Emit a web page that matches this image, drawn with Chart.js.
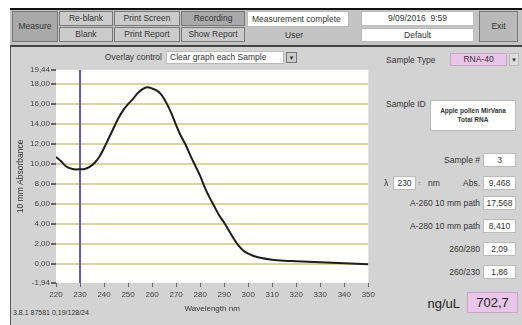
<!DOCTYPE html>
<html>
<head>
<meta charset="utf-8">
<script src="https://cdn.jsdelivr.net/npm/chart.js@4.4.1/dist/chart.umd.min.js"></script>
<style>
  body { margin: 0; background: #fff; font-family: "Liberation Sans", Arial, sans-serif; color: #333; }
  #win { position: absolute; left: 10px; top: 8px; width: 512px; height: 317px; background: #d3d3d3; border-left: 1px solid #555; }
  #bar { position: absolute; left: 10px; top: 8px; width: 512px; height: 35px; background: #c4c4c4; border-top: 2px solid #111; border-bottom: 2px solid #444; }
  .el { position: absolute; font-size: 8.5px; line-height: 1; display: flex; align-items: center; justify-content: center; box-sizing: border-box; white-space: nowrap; }
  .btn { background: #cbcbcb; border: 1px solid #777; }
  .dark { background: #a9a9a9; }
  .box { background: #fff; border: 1px solid #bbb; }
  .pink { background: #e9c6e9; border: 1px solid #c9a6c9; }
  .lbl { justify-content: flex-end; }
  #chartWrap { position: absolute; left: 12px; top: 64px; }
</style>
</head>
<body>
<div id="win"></div>
<div id="bar"></div>

<div class="el btn dark" style="left:12px;top:11px;width:46px;height:31px;">Measure</div>
<div class="el btn" style="left:59px;top:11px;width:54px;height:15px;">Re-blank</div>
<div class="el btn" style="left:59px;top:27px;width:54px;height:15px;">Blank</div>
<div class="el btn" style="left:114px;top:11px;width:66px;height:15px;">Print Screen</div>
<div class="el btn" style="left:114px;top:27px;width:66px;height:15px;">Print Report</div>
<div class="el btn dark" style="left:181px;top:11px;width:64px;height:15px;">Recording</div>
<div class="el btn" style="left:181px;top:27px;width:64px;height:15px;">Show Report</div>
<div class="el box" style="left:247px;top:11px;width:102px;height:16px;justify-content:flex-start;padding-left:4px;">Measurement complete</div>
<div class="el" style="left:284px;top:28px;width:20px;height:14px;">User</div>
<div class="el box" style="left:361px;top:11px;width:113px;height:15px;">9/09/2016&nbsp;&nbsp;9:59</div>
<div class="el box" style="left:361px;top:28px;width:113px;height:14px;">Default</div>
<div class="el btn" style="left:479px;top:11px;width:39px;height:31px;background:#b9b9b9;">Exit</div>

<div class="el lbl" style="left:80px;top:51px;width:82px;height:13px;">Overlay control</div>
<div class="el box" style="left:166px;top:51px;width:118px;height:13px;justify-content:flex-start;padding-left:3px;">Clear graph each Sample</div>
<div class="el btn" style="left:286px;top:52px;width:11px;height:11px;font-size:6px;">&#9660;</div>

<div class="el" style="left:386px;top:53px;width:60px;height:14px;justify-content:flex-start;">Sample Type</div>
<div class="el pink" style="left:450px;top:53px;width:57px;height:13px;">RNA-40</div>
<div class="el btn" style="left:509px;top:53px;width:10px;height:13px;font-size:6px;background:#ddd;border-color:#bbb;">&#9660;</div>

<div class="el" style="left:386px;top:98px;width:44px;height:12px;justify-content:flex-start;">Sample ID</div>
<div class="el box" style="left:430px;top:100px;width:86px;height:31px;font-size:6.5px;font-weight:bold;line-height:1.25;text-align:center;"><div>Apple pollen MirVana<br>Total RNA</div></div>

<div class="el lbl" style="left:400px;top:153px;width:80px;height:14px;">Sample #</div>
<div class="el box" style="left:483px;top:153px;width:33px;height:14px;">3</div>

<div class="el" style="left:382px;top:176px;width:8px;height:14px;">&lambda;</div>
<div class="el box" style="left:393px;top:176px;width:23px;height:14px;">230</div>
<div class="el" style="left:417px;top:176px;width:5px;height:14px;font-size:5px;color:#777;">&#8597;</div>
<div class="el" style="left:427px;top:176px;width:14px;height:14px;">nm</div>
<div class="el lbl" style="left:450px;top:176px;width:30px;height:14px;">Abs.</div>
<div class="el box" style="left:483px;top:176px;width:33px;height:14px;">9,468</div>

<div class="el lbl" style="left:380px;top:196px;width:100px;height:14px;">A-260 10 mm path</div>
<div class="el box" style="left:483px;top:196px;width:33px;height:14px;">17,568</div>
<div class="el lbl" style="left:380px;top:219px;width:100px;height:14px;">A-280 10 mm path</div>
<div class="el box" style="left:483px;top:219px;width:33px;height:14px;">8,410</div>
<div class="el lbl" style="left:400px;top:242px;width:80px;height:14px;">260/280</div>
<div class="el box" style="left:483px;top:242px;width:33px;height:14px;">2,09</div>
<div class="el lbl" style="left:400px;top:265px;width:80px;height:14px;">260/230</div>
<div class="el box" style="left:483px;top:265px;width:33px;height:14px;">1,86</div>

<div class="el lbl" style="left:410px;top:294px;width:50px;height:18px;font-size:13px;color:#222;">ng/uL</div>
<div class="el pink" style="left:467px;top:292px;width:51px;height:21px;font-size:13px;color:#222;">702,7</div>

<div class="el" style="left:13px;top:307px;width:120px;height:10px;justify-content:flex-start;font-size:7px;">3.8.1 87581 0,19/128/24</div>

<div id="chartWrap"><canvas id="spectrum" width="366" height="254"></canvas></div>

<script>
// Spectrum (wavelength nm / 10 mm absorbance)
const wavelengths = [220, 222, 224, 226, 228, 230, 232, 234, 236, 238, 240, 242, 244, 246, 248, 250,
  252, 254, 256, 258, 260, 262, 264, 266, 268, 270, 272, 274, 276, 278, 280, 282, 284, 286, 288,
  290, 292, 294, 296, 298, 300, 302, 305, 310, 315, 320, 325, 330, 335, 340, 345, 350];
const absorbance = [10.7, 10.3, 9.8, 9.55, 9.45, 9.47, 9.5, 9.7, 10.1, 10.7, 11.6, 12.6, 13.6, 14.6, 15.4, 16.0,
  16.5, 17.1, 17.5, 17.7, 17.57, 17.35, 16.9, 16.1, 15.1, 13.9, 12.8, 11.9, 10.8, 9.8, 8.8, 7.6, 6.6, 5.7, 4.8,
  4.1, 3.3, 2.5, 1.8, 1.3, 1.0, 0.8, 0.6, 0.4, 0.3, 0.25, 0.2, 0.15, 0.1, 0.05, 0.0, -0.05];

const markerWavelength = 230;
const yMin = -1.94;
const yMax = 19.44;
const yTickValues = [-1.94, 0, 2, 4, 6, 8, 10, 12, 14, 16, 18, 19.44];
const xTickValues = [220, 230, 240, 250, 260, 270, 280, 290, 300, 310, 320, 330, 340, 350];

const tickFont = { family: 'Liberation Sans, Arial, sans-serif', size: 8 };

const plotBg = {
  id: 'plotBg',
  beforeDraw(chart) {
    const a = chart.chartArea;
    chart.ctx.save();
    chart.ctx.fillStyle = '#fefefc';
    chart.ctx.fillRect(a.left, a.top, a.right - a.left, a.bottom - a.top);
    chart.ctx.restore();
  }
};

new Chart(document.getElementById('spectrum'), {
  type: 'line',
  data: {
    datasets: [{
      data: wavelengths.map((w, i) => ({ x: w, y: absorbance[i] })),
      borderColor: '#1e1e1e',
      borderWidth: 2,
      pointRadius: 0,
      tension: 0.3
    }, {
      data: [{ x: markerWavelength, y: yMin }, { x: markerWavelength, y: yMax }],
      borderColor: '#6a58a8',
      borderWidth: 2,
      pointRadius: 0
    }]
  },
  options: {
    responsive: false,
    animation: false,
    devicePixelRatio: 1,
    layout: { padding: { top: 5, right: 5, left: 0, bottom: 0 } },
    plugins: { legend: { display: false }, tooltip: { enabled: false } },
    scales: {
      x: {
        type: 'linear',
        min: 220,
        max: 350,
        afterBuildTicks: s => { s.ticks = xTickValues.map(v => ({ value: v })); },
        afterFit: s => { s.height = 35; },
        ticks: { font: tickFont, color: '#444', padding: 3, maxRotation: 0, autoSkip: false },
        grid: { drawOnChartArea: false, tickLength: 4, tickColor: '#666' },
        border: { display: false },
        title: { display: true, text: 'Wavelength nm', font: { family: tickFont.family, size: 8 }, color: '#333', padding: { top: 0, bottom: 4 } }
      },
      y: {
        min: yMin,
        max: yMax,
        afterBuildTicks: s => { s.ticks = yTickValues.map(v => ({ value: v })); },
        afterFit: s => { s.width = 44; },
        ticks: {
          font: tickFont, color: '#444', padding: 1, autoSkip: false,
          callback: v => v.toFixed(2).replace('.', ',')
        },
        grid: {
          color: c => (c.tick && (c.tick.value === yMin || c.tick.value === yMax)) ? 'rgba(0,0,0,0)' : '#dcd3a4',
          lineWidth: 2,
          tickLength: 5,
          tickColor: '#666'
        },
        border: { display: false },
        title: { display: true, text: '10 mm Absorbance', font: { family: tickFont.family, size: 8.5 }, color: '#333', padding: { top: 4, bottom: 0 } }
      }
    }
  },
  plugins: [plotBg]
});
</script>
</body>
</html>
